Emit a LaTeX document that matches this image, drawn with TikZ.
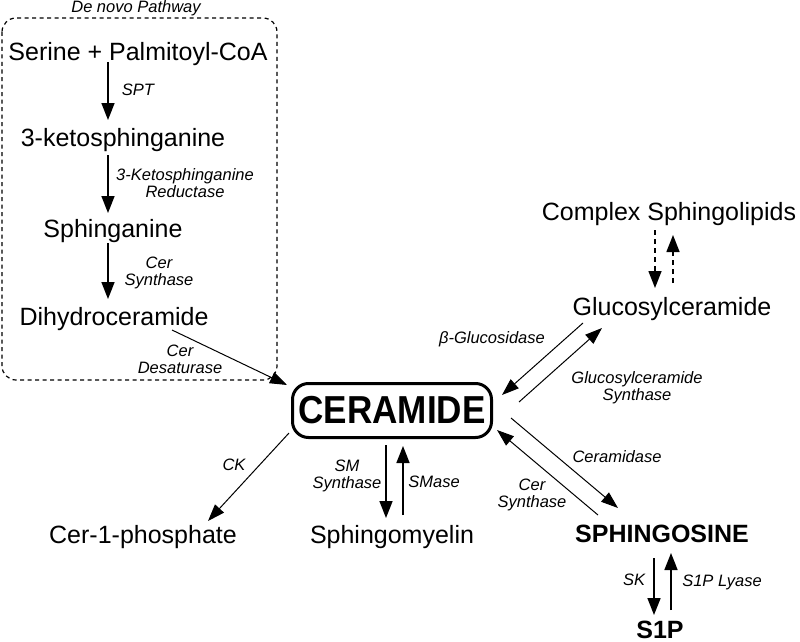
\documentclass[tikz,border=0pt]{standalone}
\usepackage{fontspec}
\setmainfont{Liberation Sans}
\usetikzlibrary{arrows.meta}
\begin{document}
\begin{tikzpicture}[x=1pt,y=-1pt,
  main/.style={font=\fontsize{25}{30}\selectfont, inner sep=0pt, anchor=base},
  bmain/.style={font=\fontsize{25}{30}\selectfont\bfseries, inner sep=0pt, anchor=base},
  lab/.style={font=\fontsize{16.5}{17}\selectfont\itshape, inner sep=0pt, anchor=base, align=center},
  arr/.style={line width=1.7pt, -{Triangle[length=17pt,width=13pt]}},
  tarr/.style={line width=1pt, -{Triangle[length=17pt,width=12pt]}},
  darr/.style={line width=1.5pt, dash pattern=on 5pt off 4pt, -{Triangle[length=17pt,width=13pt]}},
  box/.style={line width=1.2pt, dash pattern=on 4pt off 3.5pt, rounded corners=14pt}
]
\useasboundingbox (0,0) rectangle (800,642);

% de novo box
\draw[box] (2,18) rectangle (277,380);
\node[lab] (denovo) at (136,13) {De novo Pathway};

% main nodes
\node[main] (serine) at (138,60) {Serine + Palmitoyl-CoA};
\node[main] (keto) at (123,146) {3-ketosphinganine};
\node[main] (sphinganine) at (113,237) {Sphinganine};
\node[main] (dihydro) at (114,325) {Dihydroceramide};
\node[draw, line width=3pt, rounded corners=16pt, minimum width=199pt, minimum height=54pt, inner sep=0pt]
  (cer) at (392,410.5) {\fontsize{39}{40}\selectfont\bfseries\scalebox{0.9}[1]{CERAMIDE}};
\node[main] (complex) at (669,220) {Complex Sphingolipids};
\node[main] (glccer) at (672,315) {Glucosylceramide};
\node[bmain] (sphingosine) at (662,542) {SPHINGOSINE};
\node[bmain] (s1p) at (660,638) {S1P};
\node[main] (c1p) at (143,543) {Cer-1-phosphate};
\node[main] (sm) at (392,543) {Sphingomyelin};

% connector end points
\coordinate (a1) at (108,62);  \coordinate (b1) at (108,120);
\coordinate (a2) at (108,155); \coordinate (b2) at (108,213);
\coordinate (a3) at (108,243); \coordinate (b3) at (108,299);
\coordinate (a4) at (172,330); \coordinate (b4) at (287,385);
\coordinate (a5) at (289,433); \coordinate (b5) at (208,521);
\coordinate (a6) at (386,445); \coordinate (b6) at (386,518);
\coordinate (a7) at (403,515); \coordinate (b7) at (403,446);
\coordinate (a8) at (583,323); \coordinate (b8) at (502,395);
\coordinate (a9) at (519,402); \coordinate (b9) at (602,328);
\coordinate (a10) at (511,418); \coordinate (b10) at (618,508);
\coordinate (a11) at (598,515); \coordinate (b11) at (497,430);
\coordinate (a12) at (655,230); \coordinate (b12) at (655,288);
\coordinate (a13) at (673,283); \coordinate (b13) at (673,235);
\coordinate (a14) at (654,558); \coordinate (b14) at (654,615);
\coordinate (a15) at (671,610); \coordinate (b15) at (671,553);

% arrows
\draw[arr] (a1) -- (b1);
\draw[arr] (a2) -- (b2);
\draw[arr] (a3) -- (b3);
\draw[tarr] (a4) -- (b4);
\draw[tarr] (a5) -- (b5);
\draw[arr] (a6) -- (b6);
\draw[arr] (a7) -- (b7);
\draw[tarr] (a8) -- (b8);
\draw[tarr] (a9) -- (b9);
\draw[tarr] (a10) -- (b10);
\draw[tarr] (a11) -- (b11);
\draw[darr] (a12) -- (b12);
\draw[darr] (a13) -- (b13);
\draw[arr] (a14) -- (b14);
\draw[arr] (a15) -- (b15);

% labels (two-line labels anchored at last line's baseline)
\node[lab] (l1) at (138,95) {SPT};
\node[lab] (l2) at (185,197) {3-Ketosphinganine\\Reductase};
\node[lab] (l3) at (159,285) {Cer\\Synthase};
\node[lab] (l4) at (180,373) {Cer\\Desaturase};
\node[lab] (l5) at (234,470) {CK};
\node[lab] (l6) at (347,488) {SM\\Synthase};
\node[lab] (l7) at (434,487) {SMase};
\node[lab] (l8) at (492,343) {β-Glucosidase};
\node[lab] (l9) at (637,400) {Glucosylceramide\\Synthase};
\node[lab] (l10) at (617,462) {Ceramidase};
\node[lab] (l11) at (532,507) {Cer\\Synthase};
\node[lab] (l12) at (634,585) {SK};
\node[lab] (l13) at (722,586) {S1P Lyase};
\end{tikzpicture}
\end{document}
